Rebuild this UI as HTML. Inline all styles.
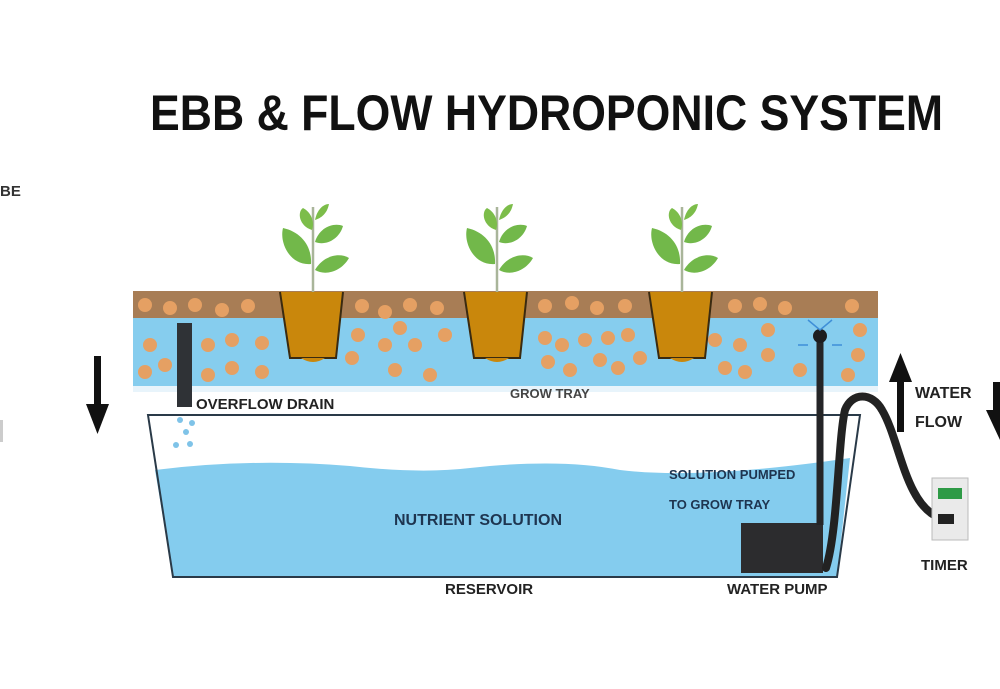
<!DOCTYPE html>
<html><head><meta charset="utf-8"><style>
html,body{margin:0;padding:0;background:#fff;width:1000px;height:689px;overflow:hidden}
svg{display:block}
text{font-family:"Liberation Sans",sans-serif;font-weight:bold}
</style></head><body>
<svg width="1000" height="689" viewBox="0 0 1000 689" xmlns="http://www.w3.org/2000/svg">
<defs>
<g id="plant">
  <line x1="0" y1="0" x2="0" y2="-85" stroke="#a9b59a" stroke-width="2.5"/>
  <path d="M-2,-28 C-22,-26 -34,-48 -30,-64 C-12,-60 -1,-46 -2,-28Z" fill="#72b84a"/>
  <path d="M2,-22 C10,-36 26,-40 36,-34 C28,-20 12,-16 2,-22Z" fill="#72b84a"/>
  <path d="M2,-50 C6,-64 20,-70 30,-66 C26,-52 12,-46 2,-50Z" fill="#72b84a"/>
  <path d="M-1,-62 C-14,-66 -16,-80 -10,-84 C-2,-80 2,-70 -1,-62Z" fill="#7cbd4a"/>
  <path d="M2,-72 C4,-82 10,-88 16,-88 C14,-78 8,-74 2,-72Z" fill="#7cbd4a"/>
  <path d="M-33,0 L-23,66 L23,66 L30,0Z" fill="#c9870c"/>
  <path d="M-33,0 L-23,66 L23,66 L30,0" fill="none" stroke="#3a2a10" stroke-width="2"/>
  <path d="M-12,66 Q0,74 12,66" fill="#c9870c"/>
</g>
</defs>

<text x="150" y="130" font-size="50" textLength="793" lengthAdjust="spacingAndGlyphs" fill="#111">EBB &amp; FLOW HYDROPONIC SYSTEM</text>
<text x="0" y="196" font-size="15" fill="#333">BE</text>
<rect x="0" y="420" width="3" height="22" fill="#ccc"/>

<rect x="133" y="291" width="745" height="95" fill="#86cdee"/>
<rect x="133" y="291" width="745" height="27" fill="#a87d55"/>
<rect x="133" y="386" width="745" height="6" fill="#e8f4fb"/>
<g fill="#e5a063">
<circle cx="145" cy="305" r="7"/><circle cx="170" cy="308" r="7"/><circle cx="195" cy="305" r="7"/><circle cx="222" cy="310" r="7"/><circle cx="248" cy="306" r="7"/>
<circle cx="362" cy="306" r="7"/><circle cx="385" cy="312" r="7"/><circle cx="410" cy="305" r="7"/><circle cx="437" cy="308" r="7"/>
<circle cx="545" cy="306" r="7"/><circle cx="572" cy="303" r="7"/><circle cx="597" cy="308" r="7"/><circle cx="625" cy="306" r="7"/>
<circle cx="735" cy="306" r="7"/><circle cx="760" cy="304" r="7"/><circle cx="785" cy="308" r="7"/><circle cx="852" cy="306" r="7"/>
<circle cx="150" cy="345" r="7"/><circle cx="208" cy="345" r="7"/><circle cx="232" cy="340" r="7"/><circle cx="262" cy="343" r="7"/>
<circle cx="165" cy="365" r="7"/><circle cx="145" cy="372" r="7"/><circle cx="208" cy="375" r="7"/><circle cx="232" cy="368" r="7"/><circle cx="262" cy="372" r="7"/>
<circle cx="358" cy="335" r="7"/><circle cx="385" cy="345" r="7"/><circle cx="400" cy="328" r="7"/><circle cx="415" cy="345" r="7"/><circle cx="445" cy="335" r="7"/>
<circle cx="352" cy="358" r="7"/><circle cx="395" cy="370" r="7"/><circle cx="430" cy="375" r="7"/>
<circle cx="545" cy="338" r="7"/><circle cx="562" cy="345" r="7"/><circle cx="585" cy="340" r="7"/><circle cx="608" cy="338" r="7"/><circle cx="628" cy="335" r="7"/>
<circle cx="548" cy="362" r="7"/><circle cx="570" cy="370" r="7"/><circle cx="600" cy="360" r="7"/><circle cx="618" cy="368" r="7"/><circle cx="640" cy="358" r="7"/>
<circle cx="715" cy="340" r="7"/><circle cx="740" cy="345" r="7"/><circle cx="768" cy="330" r="7"/><circle cx="768" cy="355" r="7"/><circle cx="725" cy="368" r="7"/><circle cx="745" cy="372" r="7"/><circle cx="800" cy="370" r="7"/><circle cx="858" cy="355" r="7"/><circle cx="860" cy="330" r="7"/><circle cx="848" cy="375" r="7"/>
</g>
<use href="#plant" x="313" y="292"/>
<use href="#plant" x="497" y="292"/>
<use href="#plant" x="682" y="292"/>

<rect x="177" y="323" width="15" height="84" fill="#2f3236"/>
<g fill="#7fc3e8"><circle cx="180" cy="420" r="3"/><circle cx="192" cy="423" r="3"/><circle cx="186" cy="432" r="3"/><circle cx="176" cy="445" r="3"/><circle cx="190" cy="444" r="3"/></g>

<path d="M155,470 Q250,458 350,466 Q420,474 470,468 Q560,458 620,470 Q700,480 850,458 L837,577 L173,577Z" fill="#84ccee"/>
<path d="M148,415 L860,415 L837,577 L173,577Z" fill="none" stroke="#2a3a48" stroke-width="2"/>

<rect x="741" y="523" width="82" height="50" fill="#2c2c2e"/>
<line x1="820" y1="525" x2="820" y2="338" stroke="#252527" stroke-width="7"/>
<circle cx="820" cy="336" r="7" fill="#1d1d1f"/>
<g stroke="#3f8fd8" stroke-width="1.5" fill="none"><path d="M808,320 L820,330 L832,320"/><path d="M798,345 L808,345"/><path d="M832,345 L842,345"/></g>
<path d="M826,568 C838,530 838,440 845,410 C852,392 872,392 882,410 C900,440 905,505 940,518" fill="none" stroke="#222" stroke-width="8" stroke-linecap="round"/>

<rect x="932" y="478" width="36" height="62" fill="#eaeaea" stroke="#bbb"/>
<rect x="938" y="488" width="24" height="11" fill="#2e9a46"/>
<rect x="938" y="514" width="16" height="10" fill="#222"/>

<rect x="94" y="356" width="7" height="50" fill="#111"/><path d="M86,404 L109,404 L97.5,434Z" fill="#111"/>
<rect x="897" y="380" width="7" height="52" fill="#111"/><path d="M889,382 L912,382 L900.5,353Z" fill="#111"/>
<rect x="993" y="382" width="7" height="30" fill="#111"/><path d="M986,410 L1000,410 L1000,440Z" fill="#111"/>

<g fill="#222" font-size="15">
<text x="196" y="409">OVERFLOW DRAIN</text>
<text x="510" y="398" font-size="13" fill="#444">GROW TRAY</text>
<text x="915" y="398" font-size="16">WATER</text>
<text x="915" y="427" font-size="16">FLOW</text>
<text x="394" y="525" fill="#1e3550" font-size="16">NUTRIENT SOLUTION</text>
<text x="669" y="479" fill="#1e3550" font-size="13">SOLUTION PUMPED</text>
<text x="669" y="509" fill="#1e3550" font-size="13">TO GROW TRAY</text>
<text x="445" y="594" font-size="15">RESERVOIR</text>
<text x="727" y="594" font-size="15">WATER PUMP</text>
<text x="921" y="570" font-size="15">TIMER</text>
</g>
</svg>
</body></html>
